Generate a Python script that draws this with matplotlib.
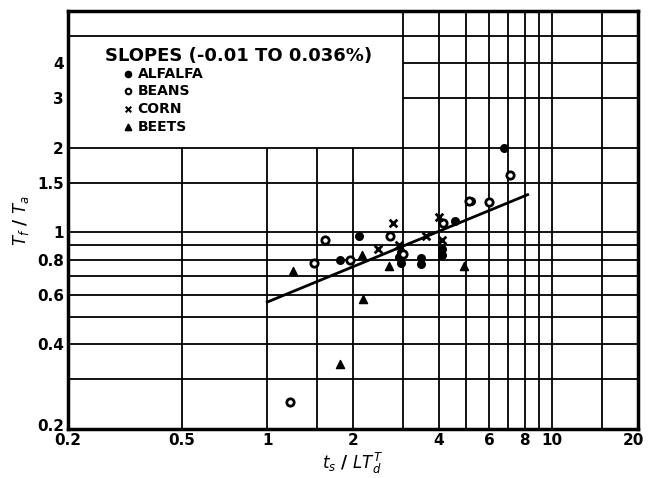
import matplotlib
matplotlib.use('Agg')
import matplotlib.pyplot as plt
import matplotlib.transforms as mtransforms

# data
alfalfa_x = [1.80, 2.10, 2.95, 2.90, 2.95, 3.45, 3.45, 4.10, 4.12, 4.55, 5.20, 6.80]
alfalfa_y = [0.80, 0.97, 0.85, 0.82, 0.78, 0.81, 0.77, 0.87, 0.83, 1.10, 1.29, 2.00]

beans_x = [1.20, 1.46, 1.59, 1.95, 2.70, 3.00, 4.15, 5.10, 6.00, 7.10]
beans_y = [0.25, 0.78, 0.94, 0.80, 0.97, 0.84, 1.08, 1.29, 1.28, 1.60]

corn_x = [2.45, 2.76, 2.90, 3.60, 4.00, 4.10]
corn_y = [0.87, 1.08, 0.90, 0.97, 1.13, 0.94]

beets_x = [1.23, 1.80, 2.15, 2.17, 2.67, 4.90]
beets_y = [0.73, 0.34, 0.83, 0.58, 0.76, 0.76]

fit_x = [1.0, 8.2]
fit_y = [0.565, 1.36]

x_ticks = [0.2, 0.5, 1, 2, 4, 6, 8, 10, 20]
x_labels = ['0.2', '0.5', '1', '2', '4', '6', '8', '10', '20']
y_ticks = [0.2, 0.4, 0.6, 0.8, 1, 1.5, 2, 3, 4]
y_labels = ['0.2', '0.4', '0.6', '0.8', '1', '1.5', '2', '3', '4']

# graph paper lines
vgrid_low = [0.5, 1, 1.5, 2]
vgrid_full = [3, 4, 5, 6, 7, 8, 9, 10, 15]
hgrid_full = [0.3, 0.4, 0.5, 0.6, 0.7, 0.8, 0.9, 1, 1.5, 2, 5]
hgrid_right = [3, 4]

fig = plt.figure(figsize=(6.49, 4.78), dpi=100)
ax = fig.add_axes([0.105, 0.1025, 0.878, 0.874])
ax.set_xscale('log')
ax.set_yscale('log')
ax.set_xlim(0.2, 20)
ax.set_ylim(0.2, 6.1)

gl = dict(color='black', linewidth=1.3, zorder=1)
ax.vlines(vgrid_low, 0.2, 2, **gl)
ax.vlines(vgrid_full, 0.2, 6.1, **gl)
ax.hlines(hgrid_full, 0.2, 20, **gl)
ax.hlines(hgrid_right, 3, 20, **gl)

ax.plot(fit_x, fit_y, color='black', linewidth=2, zorder=2)

ax.scatter(alfalfa_x, alfalfa_y, marker='o', s=30, color='black', zorder=3)
ax.scatter(beans_x, beans_y, marker='o', s=28, facecolor='white',
           edgecolor='black', linewidth=2, zorder=3)
ax.scatter(corn_x, corn_y, marker='x', s=30, color='black', linewidth=2, zorder=3)
ax.scatter(beets_x, beets_y, marker='^', s=34, color='black', zorder=3)

for sp in ax.spines.values():
    sp.set_linewidth(2.5)

ax.minorticks_off()
ax.set_xticks(x_ticks)
ax.set_xticklabels(x_labels)
ax.set_yticks(y_ticks)
ax.set_yticklabels(y_labels)
ax.tick_params(length=0, labelsize=11, pad=3)
for t in ax.get_xticklabels() + ax.get_yticklabels():
    t.set_fontweight('bold')

# nudge corner labels like on the scan
xl = ax.get_xticklabels()
xl[-1].set_transform(xl[-1].get_transform() +
                     mtransforms.ScaledTranslation(-5 / 100, 0, fig.dpi_scale_trans))
yl = ax.get_yticklabels()
yl[0].set_transform(yl[0].get_transform() +
                    mtransforms.ScaledTranslation(0, 4 / 100, fig.dpi_scale_trans))

ax.set_xlabel('$t_s$ / $LT_d^T$', fontsize=12, fontweight='bold', labelpad=2)
ax.set_ylabel('$T_f$ / $T_a$', fontsize=12, fontweight='bold', labelpad=4)

# legend block, written as on the scan
ax.text(0.065, 0.893, 'SLOPES (-0.01 TO 0.036%)', transform=ax.transAxes,
        fontsize=13, fontweight='bold', va='center')
legend_rows = [('ALFALFA', 'o', 'black'), ('BEANS', 'o', 'white'),
               ('CORN', 'x', 'black'), ('BEETS', '^', 'black')]
for i, (name, m, fc) in enumerate(legend_rows):
    yy = 0.850 - i * 0.042
    ax.scatter([0.105], [yy], transform=ax.transAxes, marker=m, s=16,
               facecolor=fc, edgecolor='black', color='black' if m == 'x' else None,
               linewidth=1.5, zorder=4)
    ax.text(0.122, yy, name, transform=ax.transAxes, fontsize=10,
            fontweight='bold', va='center')

fig.savefig('out.png', dpi=100)
